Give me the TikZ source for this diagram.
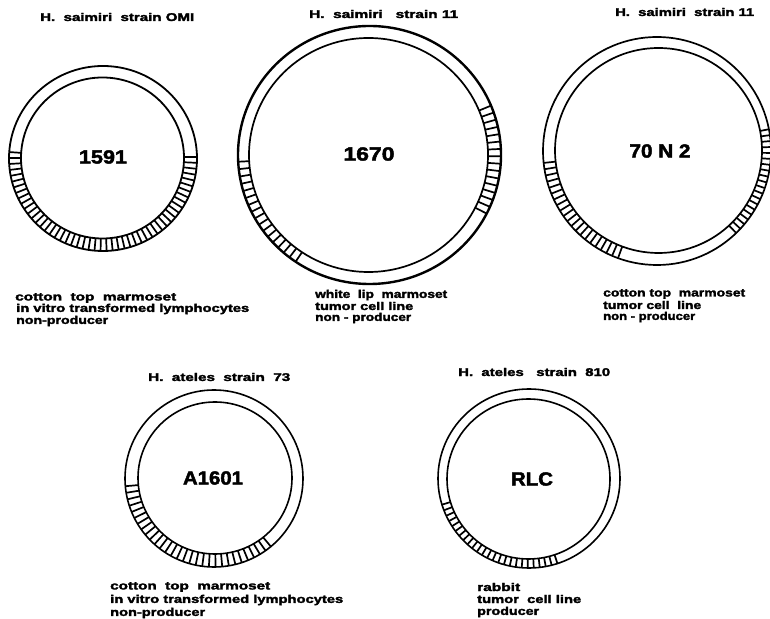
\documentclass[tikz,border=0pt]{standalone}
\usepackage{graphicx}
\usepackage{fontspec}
\newfontfamily\heavy{Liberation Sans Bold}[FakeBold=2.2]
\newcommand{\lblfont}{\fontsize{11.2}{12}\selectfont\heavy}
\newcommand{\numfont}{\fontsize{19}{21}\selectfont\heavy}
\newcommand{\lbl}[5]{% name, x, ypx, width, text
  \node[lbltext] (#1) at (#2,618-#3) {\lblfont\resizebox{#4pt}{\height}{#5}};}
\newcommand{\num}[5]{% name, x, ypx, width, text
  \node[numtext] (#1) at (#2,618-#3) {\numfont\resizebox{#4pt}{\height}{#5}};}
\newcommand{\ringline}[5][1.6pt]{\draw[line width=#1,black] (#2,618-#3) ellipse [x radius=#4,y radius=#5];}
\newcommand{\innerline}[5][1.6pt]{\draw[line width=#1,black,fill=white] (#2,618-#3) ellipse [x radius=#4,y radius=#5];}
% hatch: cx, cy, outer x radius, outer y radius, first, second, last angle
\newcommand{\hatch}[7]{%
  \foreach \a in {#5,#6,...,#7}{%
    \draw[hatchline] ({#1+#3*cos(\a)},{618-#2+#4*sin(\a)}) -- ({#1+(#3-17)*cos(\a)},{618-#2+(#4-17)*sin(\a)});}}
\tikzset{
  lbltext/.style={anchor=west,inner sep=0pt,text=black},
  numtext/.style={inner sep=0pt,text=black},
  hatchline/.style={line width=1.7pt,black}
}
\begin{document}
\begin{tikzpicture}[x=1pt,y=1pt]
\useasboundingbox (0,0) rectangle (770,618);
\fill[white] (0,0) rectangle (770,618);
\begin{scope}
\clip (0,0) rectangle (770,618);
% circle 1
\hatch{103}{158.5}{94}{92.5}{176}{179.7}{364}
\ringline[1.8pt]{103}{158.5}{94}{92.5}
\innerline[1.8pt]{102.5}{158}{81.5}{80.5}
% circle 2
\hatch{369.5}{155}{131.5}{129}{183}{186.3}{239}
\hatch{369.5}{155}{131.5}{129}{-27}{-23.7}{24}
\ringline[2.4pt]{369.5}{155}{131.5}{129}
\innerline[1.7pt]{368.5}{155}{119.5}{117}
% circle 3
\hatch{657}{151}{114}{114}{186}{189.2}{252}
\hatch{657}{151}{114}{114}{-46}{-43}{11}
\ringline[1.7pt]{657}{151}{114}{114}
\innerline[1.7pt]{658.5}{150.5}{103.5}{102.5}
% circle 4
\hatch{214}{478.5}{89}{88.5}{185}{189.3}{314}
\ringline[1.6pt]{214}{478.5}{89}{88.5}
\innerline[1.6pt]{215}{478}{77}{76}
% circle 5
\hatch{529}{478.5}{91}{89.5}{197}{200.8}{290}
\ringline[1.6pt]{529}{478.5}{91}{89.5}
\innerline[1.6pt]{528.5}{479}{81.5}{80}
\end{scope}
% numbers
\num{n1}{103}{157}{48}{1591}
\num{n2}{369}{154}{51}{1670}
\num{n3}{660}{151}{61}{70 N 2}
\num{n4}{213}{478}{60}{A1601}
\num{n5}{532}{479}{42}{RLC}
% titles
\lbl{t1}{40}{17}{154}{H.~~saimiri~~strain OMI}
\lbl{t2}{309}{14}{149}{H.~~saimiri~~~strain 11}
\lbl{t3}{615}{12}{139}{H.~~saimiri~~strain 11}
\lbl{t4}{148}{377}{142}{H.~~ateles~~strain~~73}
\lbl{t5}{458}{372}{152}{H.~~ateles~~~strain~~810}
% captions
\lbl{a1}{15}{298}{161}{cotton~~top~~marmoset}
\lbl{a2}{16}{309}{233}{in vitro transformed lymphocytes}
\lbl{a3}{16}{321}{92}{non-producer}
\lbl{b1}{315}{295}{132}{white~~lip~~marmoset}
\lbl{b2}{315}{306}{98}{tumor cell line}
\lbl{b3}{315}{318}{96}{non - producer}
\lbl{c1}{603}{294}{142}{cotton top~~marmoset}
\lbl{c2}{603}{305}{98}{tumor cell~~line}
\lbl{c3}{603}{317}{92}{non - producer}
\lbl{d1}{110}{587}{160}{cotton~~top~~marmoset}
\lbl{d2}{110}{600}{233}{in vitro transformed lymphocytes}
\lbl{d3}{110}{613}{95}{non-producer}
\lbl{e1}{477}{587}{43}{rabbit}
\lbl{e2}{477}{599}{104}{tumor~~cell line}
\lbl{e3}{477}{612}{62}{producer}
\end{tikzpicture}
\end{document}
